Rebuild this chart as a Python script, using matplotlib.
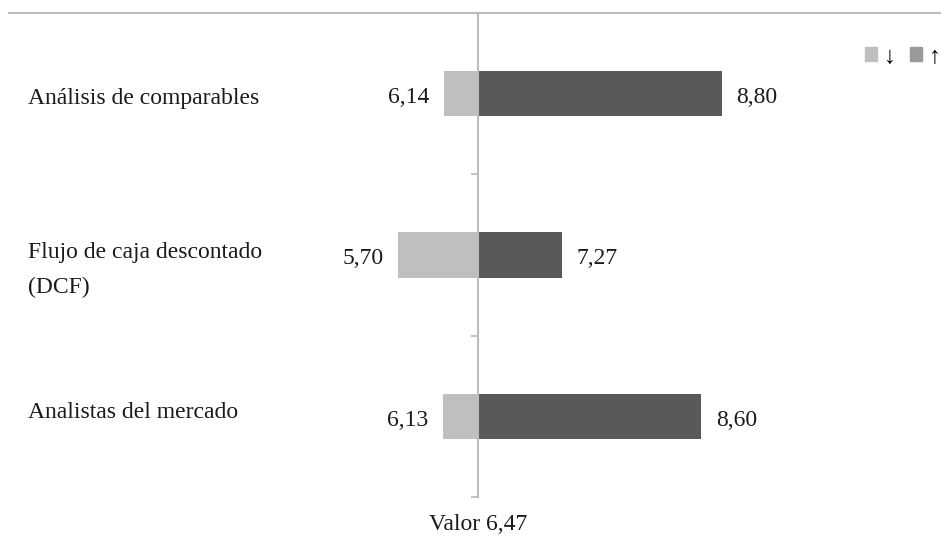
"""
Tornado chart: valuation range per method around the base value.
"""

import numpy as np
import matplotlib.pyplot as plt
from matplotlib.patches import Patch

categories = ["Análisis de comparables", "Flujo de caja descontado\n(DCF)", "Analistas del mercado"]
low_values = [6.14, 5.70, 6.13]
high_values = [8.80, 7.27, 8.60]
base_value = 6.47

LIGHT = '#bfbfbf'
DARK = '#595959'
AXIS = '#bcbcbc'
TEXT = '#1a1a1a'

# vertical nudge (pixels, downward) of each category label
label_shift = [5, 15, -4]


def fmt(v: float) -> str:
    return f"{v:.2f}".replace('.', ',')


def main() -> None:
    plt.rcParams['font.family'] = ['Liberation Serif', 'DejaVu Sans']
    fig = plt.figure(figsize=(9.41, 5.39), dpi=100)
    W, H = 941, 539
    top, bottom = 13, 497
    ax = fig.add_axes([9 / W, 1 - bottom / H, 1 - 9 / W, (bottom - top) / H])

    n = len(categories)
    y = np.arange(n)
    low = np.array(low_values)
    high = np.array(high_values)
    bh = 0.28
    px = n / (bottom - top)   # data units per pixel on y

    ax.barh(y, base_value - low, left=low, height=bh, color=LIGHT)
    ax.barh(y, high - base_value, left=base_value, height=bh, color=DARK)

    ax.set_xlim(base_value - 469.5 / 104.5, base_value + 462.5 / 104.5)
    ax.set_ylim(n - 0.5, -0.5)

    for i in range(n):
        ax.text(low[i] - 0.14, y[i] + 4 * px, fmt(low[i]), ha='right', va='center',
                fontsize=17, color=TEXT)
        ax.text(high[i] + 0.14, y[i] + 4 * px, fmt(high[i]), ha='left', va='center',
                fontsize=17, color=TEXT)
        ax.text((28 - 9) / (W - 9), y[i] + label_shift[i] * px, categories[i],
                transform=ax.get_yaxis_transform(), ha='left', va='center',
                fontsize=17, color=TEXT, linespacing=1.85)

    # vertical axis through the base value, ticks at category boundaries
    for s in ('right', 'bottom'):
        ax.spines[s].set_visible(False)
    ax.spines['top'].set_color(AXIS)
    ax.spines['top'].set_linewidth(1.5)
    ax.spines['left'].set_position(('data', base_value))
    ax.spines['left'].set_color(AXIS)
    ax.spines['left'].set_linewidth(1.5)
    ax.set_yticks(np.arange(-0.5, n))
    ax.tick_params(axis='y', direction='out', length=5, width=1.3,
                   color=AXIS, labelleft=False)
    ax.set_xticks([])

    fig.text(478.5 / W, 1 - 524 / H, "Valor " + fmt(base_value),
             ha='center', va='center', fontsize=17, color=TEXT)

    handles = [Patch(color=LIGHT), Patch(color='#9a9a9a')]
    fig.legend(handles, ['↓', '↑'], ncol=2, frameon=False,
               loc='center right', bbox_to_anchor=(1.0, 1 - 57 / H),
               fontsize=17, handlelength=0.5, handleheight=0.5,
               handletextpad=0.3, columnspacing=0.6, borderpad=0.0,
               borderaxespad=0.0)

    fig.savefig('out.png', dpi=100)


if __name__ == '__main__':
    main()
